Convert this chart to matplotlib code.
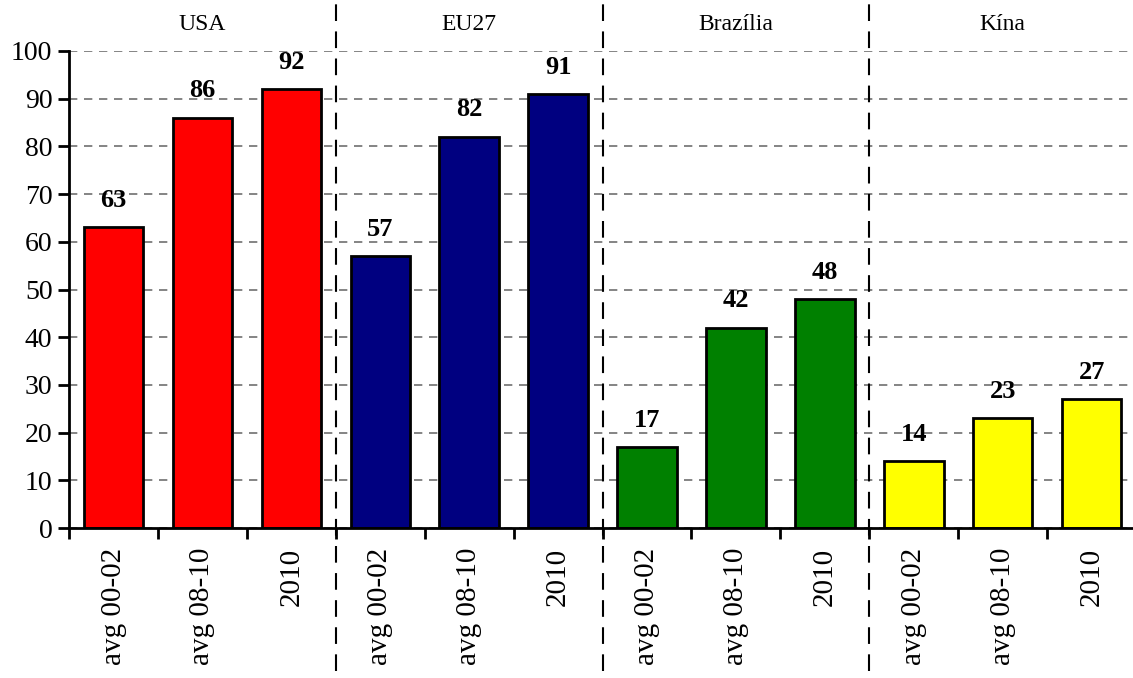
import numpy as np
import matplotlib
matplotlib.use("Agg")
from matplotlib import pyplot as plt

plt.rcParams['font.family'] = ['Liberation Serif', 'DejaVu Serif']

# data
regions = ['USA', 'EU27', 'Brazília', 'Kína']
periods = ['avg 00-02', 'avg 08-10', '2010']
values = {
    'USA': [63, 86, 92],
    'EU27': [57, 82, 91],
    'Brazília': [17, 42, 48],
    'Kína': [14, 23, 27],
}
colors = ['#FF0000', '#000080', '#008000', '#FFFF00']

fig = plt.figure(figsize=(11.33, 6.78), dpi=100)
ax = fig.add_axes([0.061, 0.221, 0.9417, 0.704])

n = len(periods)
for g, reg in enumerate(regions):
    x = g * n + np.arange(n) + 0.5
    bars = ax.bar(x, values[reg], width=0.67, color=colors[g],
                  edgecolor='black', linewidth=2, zorder=3)
    for b, v in zip(bars, values[reg]):
        ax.annotate(str(v), (b.get_x() + b.get_width() / 2, v),
                    xytext=(0, 11), textcoords='offset points',
                    ha='center', va='bottom', fontsize=19, fontweight='bold')
    # group title
    ax.text(g * n + n / 2, 1.055, reg, transform=ax.get_xaxis_transform(),
            ha='center', va='center', fontsize=17)
    # separators
    if g > 0:
        ax.axvline(g * n, ymin=-0.30, ymax=1.10, color='black', lw=1.5,
                   ls=(0, (8, 5)), clip_on=False, zorder=4)

ax.set_xlim(0, n * len(regions))
ax.set_ylim(0, 100)
ax.set_yticks(np.arange(0, 101, 10))
ax.yaxis.grid(True, color='#707070', ls=(0, (5, 4)), lw=1.2, zorder=0)

# labels at bar centres, tick marks at slot boundaries
ax.set_xticks(np.arange(n * len(regions)) + 0.5)
ax.set_xticklabels(periods * len(regions), rotation=90, va='top', ha='center')
ax.set_xticks(np.arange(0, n * len(regions) + 1), minor=True)
ax.tick_params(axis='x', which='major', length=0, pad=14, labelsize=21)
ax.tick_params(axis='x', which='minor', length=8, width=2, direction='out')
ax.tick_params(axis='y', length=8, width=2, labelsize=20, pad=4)

for s in ['top', 'right']:
    ax.spines[s].set_visible(False)
for s in ['left', 'bottom']:
    ax.spines[s].set_linewidth(2)
    ax.spines[s].set_zorder(5)

plt.savefig('out.png', dpi=100)
plt.close()
